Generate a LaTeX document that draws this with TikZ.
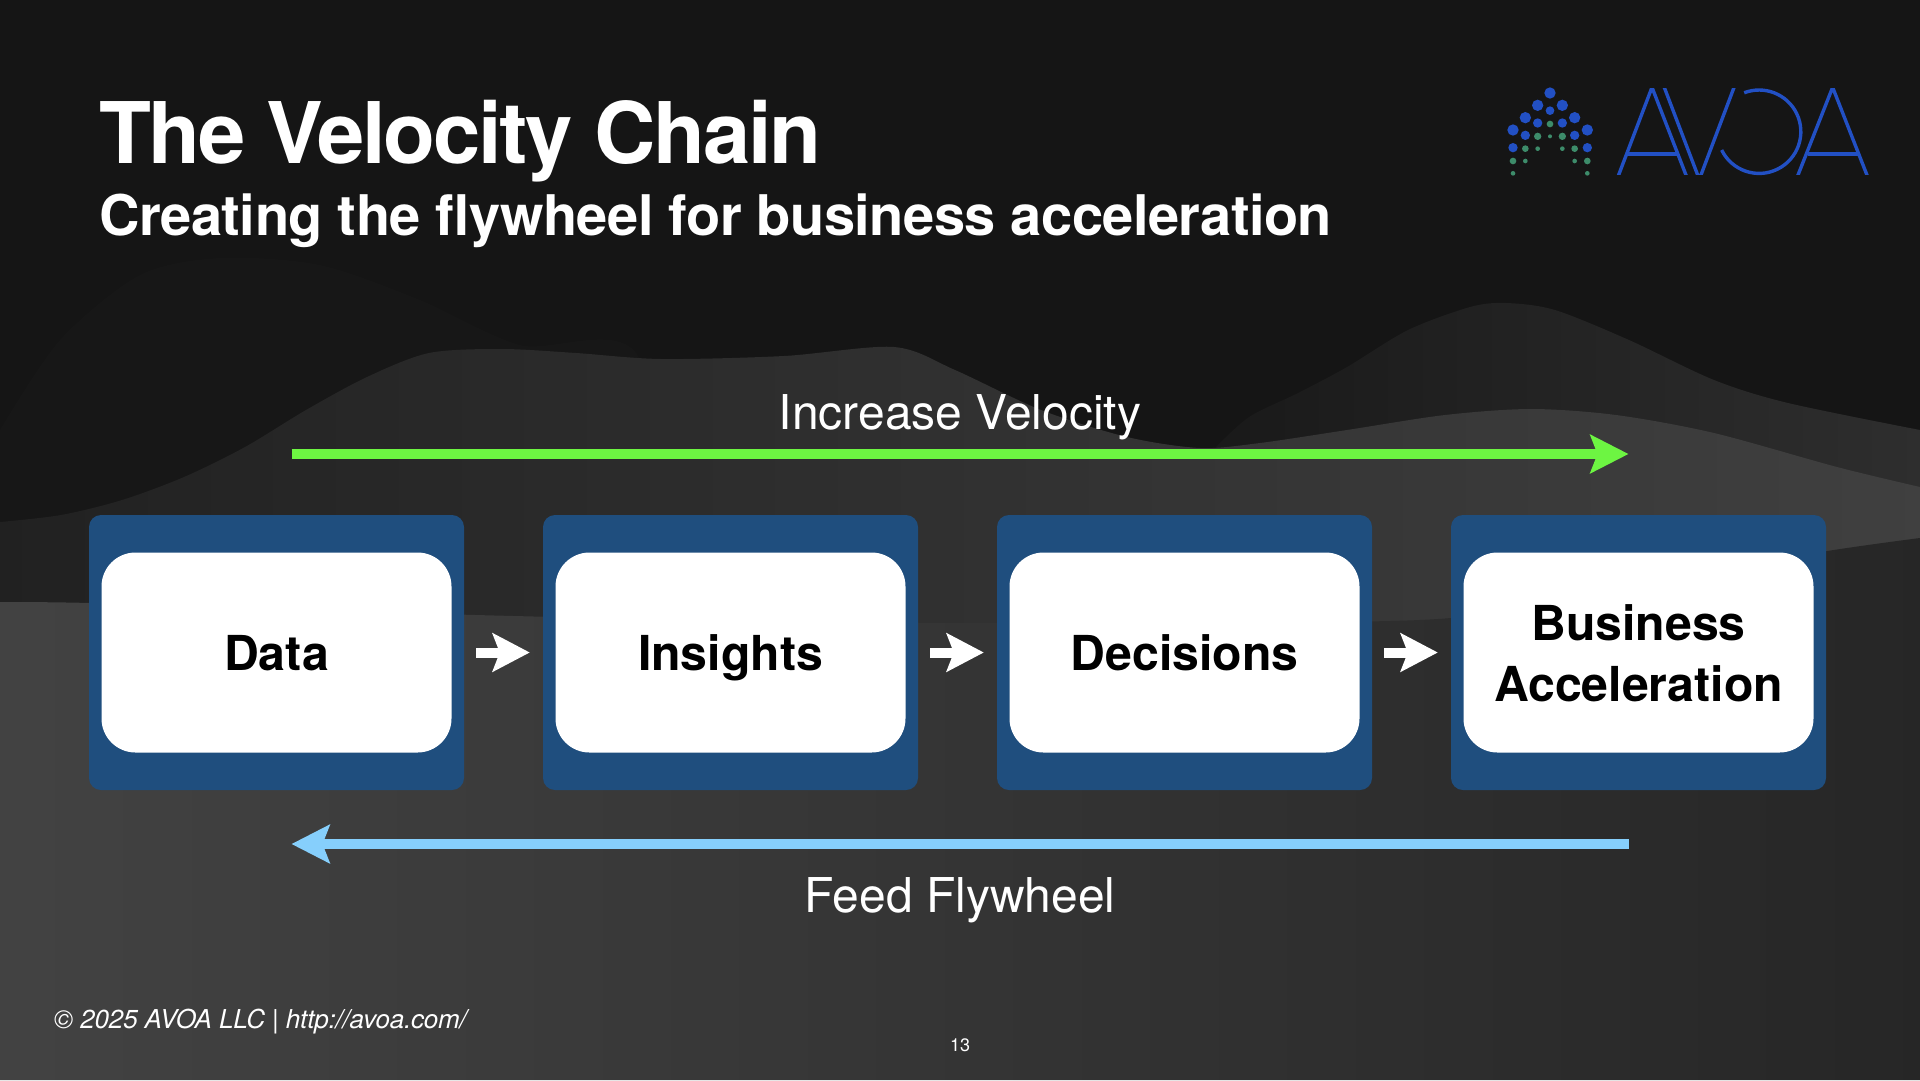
\documentclass[tikz,border=0pt]{standalone}
\usepackage{fontspec}
\setmainfont{TeX Gyre Heros}
\usepackage{xcolor}
\usetikzlibrary{
	arrows.meta
}
\definecolor{bgdark}{HTML}{151515}
\definecolor{boxblue}{HTML}{1F4E7E}
\definecolor{velgreen}{HTML}{6DF542}
\definecolor{feedblue}{HTML}{86CFFC}
\definecolor{logoblue}{HTML}{2250C4}
\definecolor{logogreen}{HTML}{3D8C6A}
\newcommand{\boxstrut}{\rule[-12pt]{0pt}{60.4pt}}

\begin{document}
\begin{tikzpicture}[
		x=1pt,y=-1pt,
		outerbox/.style={fill=boxblue,rounded corners=12pt,minimum width=375pt,minimum height=275pt},
		innerbox/.style={fill=white,rounded corners=34pt,minimum width=350pt,minimum height=200pt,align=center,font=\fontsize{48.2}{60.7}\selectfont\bfseries,text=black},
		steparrow/.style={draw=white,line width=10pt,shorten <=12pt,shorten >=13pt,-{Stealth[length=37pt,width=38pt,inset=7pt]}},
		longarrow/.style={line width=10pt,-{Stealth[length=38pt,width=38pt,inset=7pt]}},
		arrowlabel/.style={text=white,anchor=base,font=\fontsize{48}{50}\selectfont},
		logostroke/.style={draw=logoblue,line width=3.4pt}
	]
		
		\useasboundingbox (0,0) rectangle (1920,1080);
		\fill[bgdark] (0,0) rectangle (1920,1080);
		
		\fill[white,fill opacity=0.012]
		plot[smooth] coordinates {(0,430) (60,340) (140,275) (220,258) (320,265) (420,300) (520,345) (640,360) (640,640) (0,640)} -- cycle;
		
		\shade[left color=black!90,right color=black!82]
		(1215,640) -- plot[smooth] coordinates {(1215,448) (1249,417) (1298,393) (1347,367) (1408,330) (1470,307) (1506,303) (1555,310) (1629,340) (1714,380) (1788,403) (1920,430)} -- (1920,640) -- cycle;
		
		\shade[left color=black!87,right color=black!75]
		(0,660) -- plot[smooth] coordinates {(0,522) (61,515) (122,500) (184,477) (245,447) (306,410) (367,377) (429,353) (502,349) (576,353) (661,359) (784,356) (894,347) (955,370) (1041,410) (1127,437) (1200,448) (1260,443) (1347,430) (1445,415) (1531,409) (1616,415) (1714,433) (1837,467) (1920,487)} -- (1920,660) -- cycle;
		
		\shade[left color=black!74,right color=black!85]
		plot[smooth] coordinates {(0,602) (90,603) (300,610) (600,618) (950,623) (1200,622) (1451,618) (1650,582) (1821,552) (1920,538)} -- (1920,1080) -- (0,1080) -- cycle;
		
		\node[anchor=base west,text=white,inner sep=0pt,font=\fontsize{85}{85}\selectfont\bfseries\addfontfeature{LetterSpace=-2.72}] (title) at (99,163) {The Velocity Chain};
		\node[anchor=base west,text=white,inner sep=0pt,font=\fontsize{56}{60}\selectfont\bfseries\addfontfeature{LetterSpace=-0.95}] (subtitle) at (99,235) {Creating the flywheel for business acceleration};
		
		\begin{scope}[shift={(1480,70)},x=0.3333pt,y=-0.3333pt]
			\foreach \dx/\dy/\dr in {210/69/17,173/106/17,247/106/17,210/122/13,136/143/17,284/143/17,173/159/14,247/159/14,99/180/17,322/180/17,136/196/14,284/196/14,99/233/14,322/233/14}
			\fill[logoblue] (\dx,\dy) circle (\dr*0.3333pt);
			\foreach \dx/\dy/\dr in {210/162/10,173/199/11,247/199/11,210/199/6,136/236/10,284/236/10,173/236/7,247/236/7,99/273/10,322/273/10,136/273/7,284/273/7,99/310/7,322/310/7}
			\fill[logogreen] (\dx,\dy) circle (\dr*0.3333pt);
			\begin{scope}
				\clip (395,56) rectangle (1190,314);
				\draw[logostroke] (411,328) -- (516,52) -- (623,328);
				\draw[logostroke] (440,252) -- (595,252);
				\draw[logostroke] (549,42) -- (658,328) -- (766,42);
				\draw[logostroke] (949,328) -- (1058,52) -- (1166,328);
				\draw[logostroke] (985,252) -- (1135,252);
			\end{scope}
			\draw[logostroke] (725,240) arc[start angle=206,end angle=471,radius=41.7pt];
		\end{scope}
		
		\coordinate (velstart) at (291.5,454);
		\coordinate (velend) at (1628.5,454);
		\coordinate (feedstart) at (1628.5,844);
		\coordinate (feedend) at (291.5,844);
		
		\draw[longarrow,velgreen] (velstart) -- (velend);
		\draw[longarrow,feedblue] (feedstart) -- (feedend);
		
		\node[arrowlabel] (velocity) at (960,429) {Increase Velocity};
		\node[arrowlabel] (flywheel) at (960,912.7) {Feed Flywheel};
		
		\node[outerbox] (dataouter) at (276.5,652.5) {};
		\node[outerbox] (insightsouter) at (730.5,652.5) {};
		\node[outerbox] (decisionsouter) at (1184.5,652.5) {};
		\node[outerbox] (businessouter) at (1638.5,652.5) {};
		
		\node[innerbox] (data) at (276.5,652.5) {\boxstrut Data};
		\node[innerbox] (insights) at (730.5,652.5) {\boxstrut Insights};
		\node[innerbox] (decisions) at (1184.5,652.5) {\boxstrut Decisions};
		\node[innerbox] (business) at (1638.5,652.5) {\boxstrut Business\\\boxstrut Acceleration};
		
		\draw[steparrow] (dataouter) -- (insightsouter);
		\draw[steparrow] (insightsouter) -- (decisionsouter);
		\draw[steparrow] (decisionsouter) -- (businessouter);
		
		\node[anchor=base west,text=white,inner sep=0pt,font=\fontsize{26}{30}\selectfont\itshape\addfontfeature{LetterSpace=-0.7}] (footer) at (54,1028) {© 2025 AVOA LLC | http://avoa.com/};
		\node[anchor=base,text=white,inner sep=0pt,font=\fontsize{18}{20}\selectfont] (pagenum) at (960,1051.6) {13};
		
	\end{tikzpicture}
\end{document}
